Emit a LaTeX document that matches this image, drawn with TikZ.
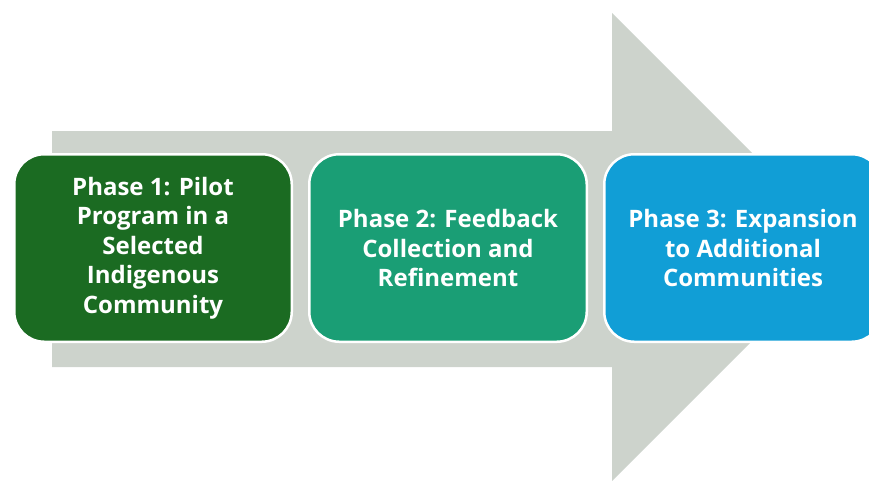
\documentclass[tikz,border=0pt]{standalone}
\usepackage{fontspec}
\setmainfont{Open Sans}
\definecolor{arrowgray}{HTML}{CDD3CC}
\definecolor{phaseone}{HTML}{1B6B22}
\definecolor{phasetwo}{HTML}{1A9E75}
\definecolor{phasethree}{HTML}{119ED6}
\begin{document}
\begin{tikzpicture}[x=1pt,y=-1pt,
  phasebox/.style={draw=white, line width=2.5pt, rounded corners=30pt,
    minimum width=277.5pt, minimum height=187.5pt, anchor=center,
    inner sep=0pt, outer sep=0pt,
    text=white, font=\bfseries\fontsize{24}{29.5}\selectfont, align=center}]
\useasboundingbox (0,0) rectangle (869,480);
\begin{scope}
\clip (0,0) rectangle (869,480);
\fill[arrowgray] (52,131) -- (612,131) -- (612,13) -- (846,247) -- (612,481) -- (612,367) -- (52,367) -- cycle;
\node[phasebox, fill=phaseone] (p1) at (153,248) {Phase 1: Pilot\\Program in a\\Selected\\Indigenous\\Community};
\node[phasebox, fill=phasetwo] (p2) at (448,248) {Phase 2: Feedback\\Collection and\\Refinement};
\node[phasebox, fill=phasethree] (p3) at (743,248) {Phase 3: Expansion\\to Additional\\Communities};
\end{scope}
\end{tikzpicture}
\end{document}
